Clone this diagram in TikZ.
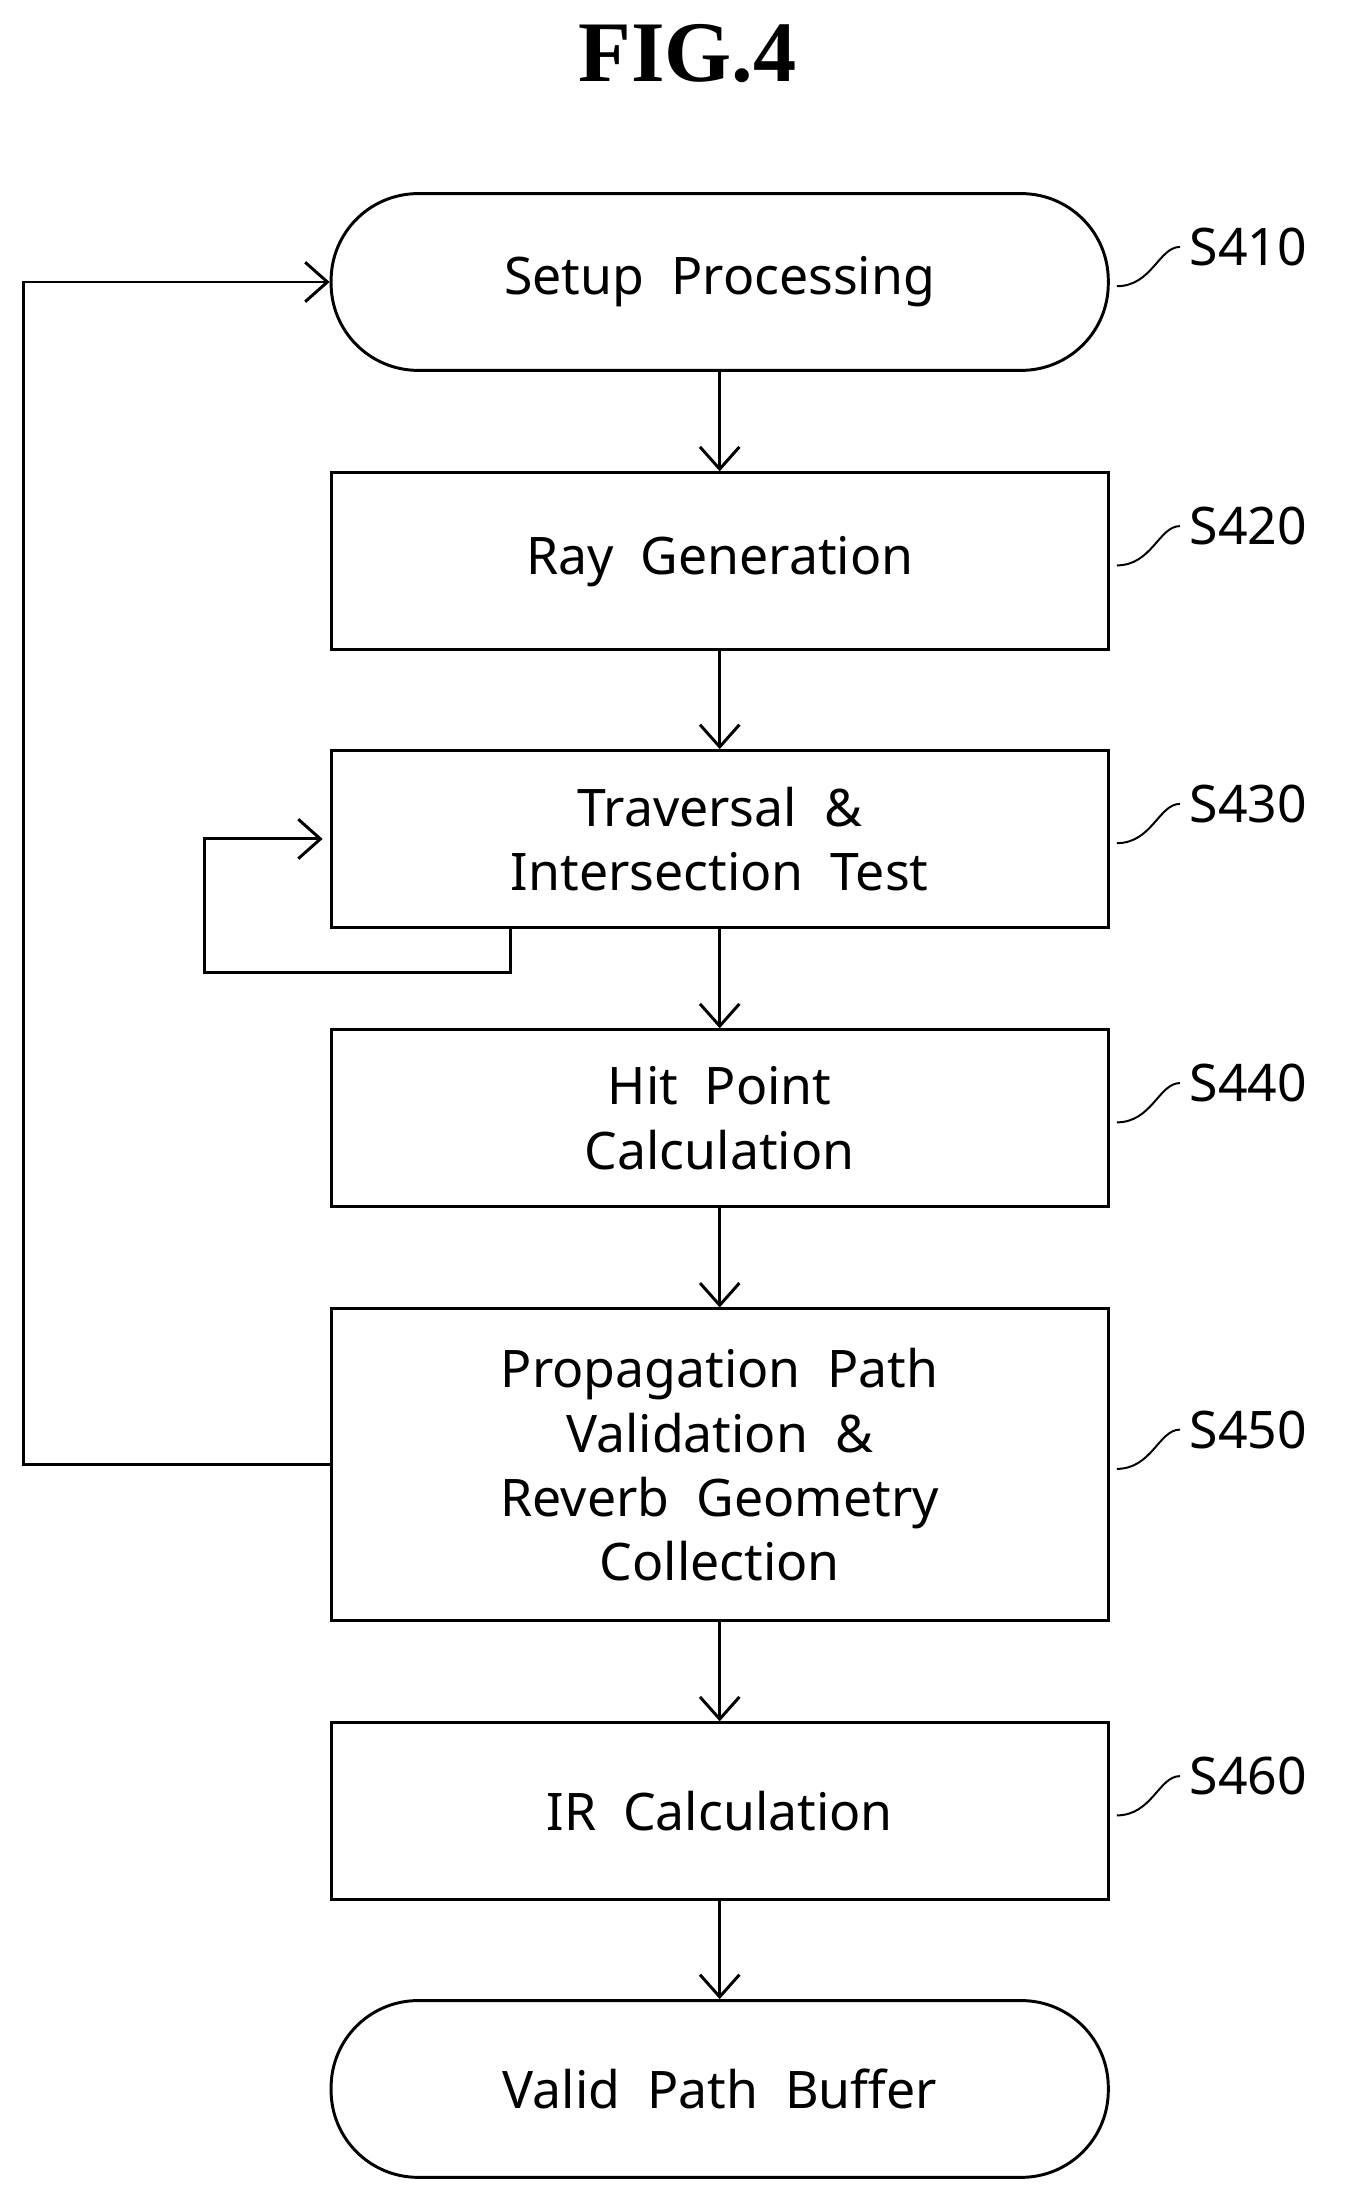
\documentclass[tikz,border=0pt]{standalone}
\usepackage{fontspec}
\setsansfont{Noto Sans}
\setmainfont{Liberation Serif}
\usetikzlibrary{positioning,calc,arrows.meta}
\begin{document}
\begin{tikzpicture}[x=0.02cm,y=-0.02cm,align=center,line width=1.2pt]

\useasboundingbox (0,0) rectangle (960,1576);

\tikzstyle{txt}=[
	font=\sffamily\fontsize{21}{26}\selectfont
]
\tikzstyle{proc}=[
	txt,
	rectangle,
	draw,
	minimum width=554*0.02cm,
	minimum height=126*0.02cm
]
\tikzstyle{term}=[
	proc,
	rounded corners=62*0.02cm
]
\tikzstyle{lbl}=[
	txt,
	anchor=west
]
\tikzstyle{arr}=[-{Straight Barb[length=9pt,width=16pt]}]

\node[font=\bfseries\fontsize{35}{38}\selectfont] (title) at (490,38) {FIG.4};

\node[term] (setup) at (513,201) {Setup\ \ Processing};
\node[proc] (ray) at (513,400) {Ray\ \ Generation};
\node[proc] (trav) at (513,598) {Traversal\ \ \&\\Intersection\ \ Test};
\node[proc] (hit) at (513,797) {Hit\ \ Point\\Calculation};
\node[proc, minimum height=222*0.02cm] (prop) at (513,1044)
	{Propagation\ \ Path\\Validation\ \ \&\\Reverb\ \ Geometry\\Collection};
\node[proc] (ir) at (513,1291) {IR\ \ Calculation};
\node[term] (buf) at (513,1489) {Valid\ \ Path\ \ Buffer};

\draw[arr] (setup) -> (ray);
\draw[arr] (ray) -> (trav);
\draw[arr] (trav) -> (hit);
\draw[arr] (hit) -> (prop);
\draw[arr] (prop) -> (ir);
\draw[arr] (ir) -> (buf);

% feedback loops
\draw[arr] (prop.west) -- (17,1044) |- (setup.west);
\coordinate (tin) at (230,598);
\draw[arr] (364,660) -- (364,693) -- (146,693) |- (tin);

% step labels
\foreach \nm/\y in {setup/S410, ray/S420, trav/S430, hit/S440, prop/S450, ir/S460}{
	\node[lbl] (l\nm) at ($(\nm.east)+(50,-25)$) {\y};
	\draw[line width=0.8pt] ($(\nm.east)+(5,3)$) .. controls +(25,0) and +(-15,0) .. (l\nm.west);
}

\end{tikzpicture}
\end{document}
